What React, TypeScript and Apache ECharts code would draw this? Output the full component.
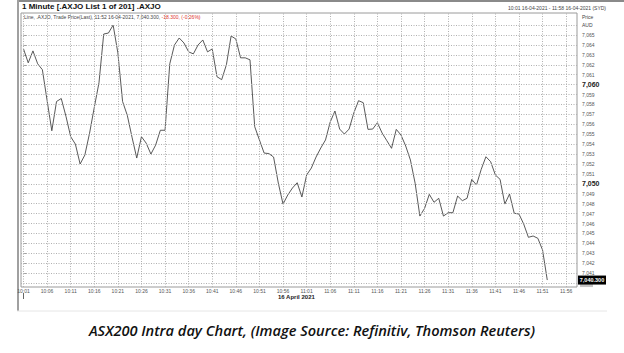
import React, { useEffect, useRef } from "react";
import * as echarts from "echarts";

// 1-minute closes, index 0 = 10:01, last = 11:52
const prices = [
  7063.6, 7062.2, 7063.4, 7062.1, 7061.5, 7058.4, 7055.35, 7058.3, 7058.6, 7056.8,
  7054.75, 7054.0, 7052.0, 7052.9, 7055.1, 7057.7, 7060.2, 7065.1, 7065.2, 7066.0,
  7063.2, 7058.3, 7056.9, 7054.7, 7052.6, 7054.75, 7054.1, 7053.0, 7053.9, 7055.4,
  7055.4, 7062.1, 7064.0, 7064.7, 7064.2, 7063.3, 7063.1, 7064.0, 7064.5, 7063.3,
  7063.6, 7060.8, 7060.5, 7062.0, 7064.9, 7064.6, 7062.7, 7062.7, 7062.5, 7055.76,
  7054.42, 7053.1, 7053.05, 7052.7, 7050.08, 7047.96, 7048.87, 7049.58, 7050.11, 7048.67,
  7050.89, 7051.59, 7052.7, 7053.61, 7054.42, 7056.23, 7057.34, 7055.52, 7055.02, 7055.52,
  7057.14, 7058.38, 7058.18, 7055.49, 7055.52, 7056.16, 7055.12, 7054.35, 7053.58, 7055.49,
  7054.92, 7053.81, 7052.4, 7050.05, 7046.75, 7047.53, 7048.94, 7048.14, 7048.54, 7046.75,
  7047.09, 7047.09, 7048.77, 7048.3, 7048.54, 7050.45, 7049.88, 7051.46, 7052.73, 7052.23,
  7050.89, 7050.45, 7047.96, 7048.97, 7047.03, 7046.96, 7045.95, 7044.61, 7044.74, 7044.51,
  7043.33, 7040.3,
];

const xTickLabels = [
  "10:01", "10:06", "10:11", "10:16", "10:21", "10:26", "10:31", "10:36", "10:41", "10:46", "10:51", "10:56",
  "11:01", "11:06", "11:11", "11:16", "11:21", "11:26", "11:31", "11:36", "11:41", "11:46", "11:51", "11:56",
];
const xTickMinutes = xTickLabels.map((_, k) => k * 5);

const yTickValues = [
  7041, 7042, 7043, 7044, 7045, 7046, 7047, 7048, 7049, 7050, 7051, 7052, 7053,
  7054, 7055, 7056, 7057, 7058, 7059, 7060, 7061, 7062, 7063, 7064, 7065,
];
const yGridValues = [7040, ...yTickValues, 7066];
const boldYTicks = [7050, 7060];
const lastPrice = 7040.3;
const lastPriceLabel = "7,040.300";

const FONT = '"Liberation Sans", Arial, sans-serif';

function fmtThousands(v: number) {
  const s = String(Math.round(v));
  return s.slice(0, s.length - 3) + "," + s.slice(s.length - 3);
}

export default function App() {
  const ref = useRef<HTMLDivElement>(null);
  useEffect(() => {
    const chart = echarts.init(ref.current!, null, { renderer: "svg" });
    const xMin = -0.53;
    const xMax = 117.3;
    const yMin = 7039.6;
    const yMax = 7067.22;
    const seriesData = prices.map((p, i) => [i, p]);
    const gridStyle = { color: "#b0b0b0", type: [1, 1.5], width: 1 };
    chart.setOption({
      animation: false,
      backgroundColor: "#fff",
      textStyle: { fontFamily: FONT },
      grid: {
        left: 21,
        top: 13,
        width: 556,
        height: 274,
        show: true,
        borderColor: "#9a9a9a",
        borderWidth: 1,
        backgroundColor: "transparent",
      },
      xAxis: {
        type: "value",
        min: xMin,
        max: xMax,
        axisLine: { show: false },
        splitLine: { show: false },
        axisTick: { show: false },
        axisLabel: {
          customValues: xTickMinutes,
          fontSize: 5,
          color: "#555",
          margin: 1,
          fontFamily: FONT,
          formatter: (v: number) => xTickLabels[Math.round(v / 5)] ?? "",
        },
      },
      yAxis: {
        type: "value",
        position: "right",
        min: yMin,
        max: yMax,
        axisLine: { show: false },
        splitLine: { show: false },
        axisTick: {
          show: true,
          customValues: yTickValues,
          length: 3,
          lineStyle: { color: "#888", width: 0.8 },
        },
        axisLabel: {
          customValues: yTickValues,
          margin: 5,
          fontFamily: FONT,
          formatter: (v: number) =>
            boldYTicks.includes(Math.round(v))
              ? `{b|${fmtThousands(v)}}`
              : `{n|${fmtThousands(v)}}`,
          rich: {
            n: { fontSize: 5, color: "#555", fontFamily: FONT },
            b: { fontSize: 7, color: "#222", fontWeight: "bold", fontFamily: FONT },
          },
        },
      },
      series: [
        {
          type: "line",
          name: "grid",
          data: seriesData,
          z: 1,
          showSymbol: false,
          lineStyle: { opacity: 0 },
          markLine: {
            silent: true,
            animation: false,
            symbol: ["none", "none"],
            label: { show: false },
            lineStyle: gridStyle,
            data: [
              ...yGridValues.map((v) => [
                { coord: [xMin, v], lineStyle: gridStyle },
                { coord: [xMax, v] },
              ]),
              ...xTickMinutes.map((m) => ({ xAxis: m, lineStyle: gridStyle })),
            ],
          },
        },
        {
          type: "line",
          z: 3,
          data: seriesData,
          showSymbol: false,
          lineStyle: { color: "#454545", width: 0.9 },
          markPoint: {
            silent: true,
            data: [
              {
                coord: [xMax, lastPrice],
                symbol: "rect",
                symbolSize: [13, 4],
                symbolOffset: [9.5, 5],
                itemStyle: { color: "#c4c4c4" },
                label: { show: false },
              },
              {
                coord: [xMax, lastPrice],
                symbol: "rect",
                symbolSize: [28, 9],
                symbolOffset: [15, 0],
                itemStyle: { color: "#000" },
                label: {
                  show: true,
                  position: "inside",
                  color: "#fff",
                  fontSize: 5.5,
                  fontWeight: "bold",
                  fontFamily: FONT,
                  formatter: lastPriceLabel,
                },
              },
            ],
          },
        },
      ],
      graphic: [
        // outer screenshot frame
        { type: "line", shape: { x1: 17, y1: 1, x2: 624, y2: 1 }, style: { stroke: "#8a8a8a", lineWidth: 2 } },
        { type: "line", shape: { x1: 18, y1: 0, x2: 18, y2: 311 }, style: { stroke: "#a0a0a0", lineWidth: 2 } },
        { type: "line", shape: { x1: 17, y1: 311, x2: 607, y2: 311 }, style: { stroke: "#e6e6e6", lineWidth: 1 } },
        {
          type: "text",
          left: 22,
          top: 2,
          style: {
            text: "1 Minute [.AXJO List 1 of 201] .AXJO",
            fontSize: 8,
            fontWeight: "bold",
            fill: "#111",
            fontFamily: FONT,
          },
        },
        {
          type: "text",
          right: 18,
          top: 5,
          style: {
            text: "10:01 16-04-2021 - 11:58 16-04-2021 (SYD)",
            fontSize: 5,
            fill: "#444",
            fontFamily: FONT,
          },
        },
        {
          type: "text",
          left: 582,
          top: 13,
          style: { text: "Price\nAUD", fontSize: 5, lineHeight: 8, fill: "#444", fontFamily: FONT },
        },
        {
          type: "text",
          left: 24,
          top: 14,
          style: {
            text:
              "{a|Line, .AXJO, Trade Price(Last), 11:52 16-04-2021, 7,040.300, }{r|-18.300, (-0.26%)}",
            rich: {
              a: { fontSize: 5, fill: "#444", fontFamily: FONT },
              r: { fontSize: 5, fill: "#e0302a", fontFamily: FONT },
            },
          },
        },
        {
          type: "text",
          left: 278,
          top: 294,
          style: {
            text: "16 April 2021",
            fontSize: 6,
            fontWeight: "bold",
            fill: "#222",
            fontFamily: FONT,
          },
        },
        { type: "line", shape: { x1: 23.5, y1: 293, x2: 23.5, y2: 299 }, style: { stroke: "#666", lineWidth: 1 } },
        {
          type: "text",
          x: 312,
          y: 330,
          style: {
            text: "ASX200 Intra day Chart, (Image Source: Refinitiv, Thomson Reuters)",
            fontSize: 14.6,
            fontStyle: "italic",
            fontWeight: 600,
            fill: "#111",
            fontFamily: '"Open Sans", sans-serif',
            textAlign: "center",
            textVerticalAlign: "middle",
          },
        },
      ],
    });
    return () => chart.dispose();
  }, []);
  return (
    <div
      ref={ref}
      style={{ position: "fixed", left: 0, top: 0, width: 624, height: 353 }}
    />
  );
}
